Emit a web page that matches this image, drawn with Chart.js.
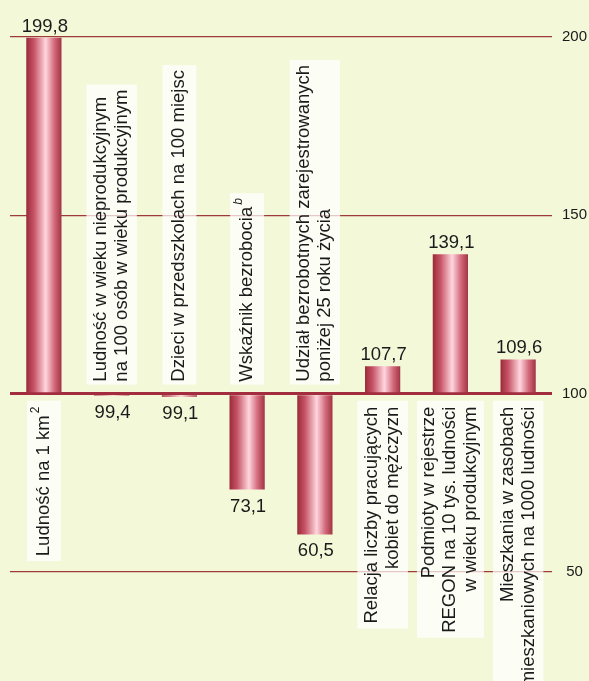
<!DOCTYPE html>
<html>
<head>
<meta charset="utf-8">
<script src="https://cdn.jsdelivr.net/npm/chart.js@4.4.1/dist/chart.umd.min.js"></script>
<style>
    html, body { margin: 0; padding: 0; background: #f2f8d8; }
    #wrap { width: 589px; height: 681px; position: relative; }
</style>
</head>
<body>
<div id="wrap"><canvas id="myChart"></canvas></div>
<script>
const categories = [
    ["Ludność na 1 km"],
    ["Ludność w wieku nieprodukcyjnym", "na 100 osób w wieku produkcyjnym"],
    ["Dzieci w przedszkolach na 100 miejsc"],
    ["Wskaźnik bezrobocia"],
    ["Udział bezrobotnych zarejestrowanych", "poniżej 25 roku życia"],
    ["Relacja liczby pracujących", "kobiet do mężczyzn"],
    ["Podmioty w rejestrze", "REGON na 10 tys. ludności", "w wieku produkcyjnym"],
    ["Mieszkania w zasobach", "mieszkaniowych na 1000 ludności"]
];
const superscripts = ["2", "", "", "b", "", "", "", ""];
const values = [199.8, 99.4, 99.1, 73.1, 60.5, 107.7, 139.1, 109.6];
const baseValue = 100;
const tickValues = [50, 100, 150, 200];

const FONT = '"Liberation Sans", Arial, sans-serif';
const barPct = 0.52;

function barGradient(ctx) {
    const chart = ctx.chart;
    const x = chart.scales.x;
    if (!x || ctx.dataIndex === undefined) return "#c04a5c";
    const cx = x.getPixelForValue(ctx.dataIndex);
    const w = (x.width / categories.length) * barPct;
    if (!isFinite(cx) || !isFinite(w) || w <= 0) return "#c04a5c";
    const g = chart.ctx.createLinearGradient(cx - w / 2, 0, cx + w / 2, 0);
    g.addColorStop(0, "#9a2a3a");
    g.addColorStop(0.22, "#c65466");
    g.addColorStop(0.55, "#ffd6de");
    g.addColorStop(0.8, "#d2697a");
    g.addColorStop(1, "#a13344");
    return g;
}

function fmt(v) {
    return v.toFixed(1).replace(".", ",");
}

// category names in boxes + value labels
const labelPlugin = {
    id: "labels",
    afterDatasetsDraw(chart) {
        const ctx = chart.ctx;
        const x = chart.scales.x;
        const y = chart.scales.y;
        const base = y.getPixelForValue(baseValue);
        const lineH = 21;
        const labelFont = "18.5px " + FONT;

        ctx.save();
        categories.forEach(function (lines, i) {
            const cx = x.getPixelForValue(i);
            const v = values[i];
            const up = v >= baseValue;

            // value label
            ctx.font = "18.5px " + FONT;
            ctx.fillStyle = "#1a1a1a";
            ctx.textAlign = "center";
            ctx.textBaseline = "alphabetic";
            const end = y.getPixelForValue(v);
            ctx.fillText(fmt(v), cx + 1, up ? end - 6 : end + 22);

            // category label, rotated
            ctx.font = labelFont;
            let maxW = 0;
            lines.forEach(function (l) { maxW = Math.max(maxW, ctx.measureText(l).width); });
            const sup = superscripts[i];
            let supW = 0;
            if (sup) {
                ctx.font = (sup === "b" ? "italic " : "") + "12px " + FONT;
                supW = ctx.measureText(sup).width + 2;
                maxW += supW;
            }
            const n = lines.length;
            const boxW = (n - 1) * 16.5 + 34;
            const anchor = up ? base + 13 : base - 12;
            let top, bottom;
            if (up) {
                top = anchor - 6;
                bottom = anchor + maxW + 5;
            } else {
                bottom = anchor + 3;
                top = anchor - maxW - 5;
            }
            ctx.fillStyle = "rgba(255,255,255,0.72)";
            ctx.fillRect(cx - boxW / 2, top, boxW, bottom - top);

            ctx.save();
            ctx.translate(cx, anchor);
            ctx.rotate(-Math.PI / 2);
            ctx.fillStyle = "#1a1a1a";
            ctx.textBaseline = "middle";
            lines.forEach(function (l, k) {
                const off = (k - (n - 1) / 2) * lineH;
                ctx.font = labelFont;
                const w = ctx.measureText(l).width;
                let sx;
                if (up) {
                    ctx.textAlign = "right";
                    sx = sup ? -supW : 0;
                } else {
                    ctx.textAlign = "left";
                    sx = 0;
                }
                ctx.fillText(l, sx, off);
                if (sup && k === 0) {
                    const startX = up ? sx : sx + w;
                    ctx.font = (sup === "b" ? "italic " : "") + "12px " + FONT;
                    ctx.textAlign = "left";
                    ctx.fillText(sup, startX + 2, off - 8);
                }
            });
            ctx.restore();
        });
        ctx.restore();
    }
};

new Chart("myChart", {
    type: "bar",
    data: {
        labels: categories,
        datasets: [{
            data: values,
            base: baseValue,
            backgroundColor: barGradient,
            borderWidth: 0,
            barPercentage: barPct,
            categoryPercentage: 1
        }]
    },
    options: {
        responsive: true,
        maintainAspectRatio: false,
        animation: false,
        events: [],
        layout: { padding: { left: 10, right: 1, top: 0, bottom: 0 } },
        plugins: {
            legend: { display: false },
            tooltip: { enabled: false },
            title: { display: false }
        },
        scales: {
            x: {
                display: false,
                offset: true
            },
            y: {
                position: "right",
                min: 19.4,
                max: 210.4,
                afterBuildTicks: function (axis) {
                    axis.ticks = tickValues.map(function (t) { return { value: t }; });
                },
                afterFit: function (axis) {
                    axis.width = 36;
                    axis.paddingTop = 0;
                    axis.paddingBottom = 0;
                },
                grid: {
                    drawTicks: false,
                    color: function (c) { return c.tick && c.tick.value === baseValue ? "#a12d3e" : "#9e3a3a"; },
                    lineWidth: function (c) { return c.tick && c.tick.value === baseValue ? 3 : 1.3; }
                },
                border: { display: false },
                ticks: {
                    padding: 10,
                    crossAlign: "center",
                    color: "#1a1a1a",
                    font: { family: FONT, size: 15 },
                    callback: function (v) { return v; }
                }
            }
        }
    },
    plugins: [labelPlugin]
});
</script>
</body>
</html>
